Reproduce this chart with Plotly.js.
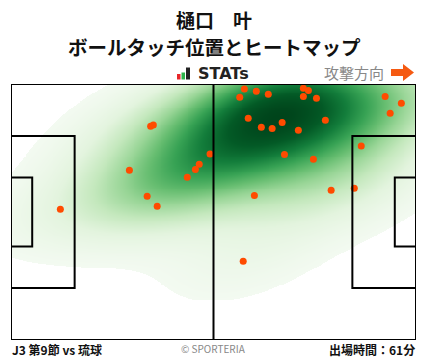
<!DOCTYPE html>
<html>
<head>
<meta charset="utf-8">
<script src="https://cdn.plot.ly/plotly-3.0.1.min.js"></script>
<style>
html,body{margin:0;padding:0;background:#fff;}
#chart{width:428px;height:359px;}
</style>
</head>
<body>
<div id="chart"></div>
<script>
// ---- data (pitch metres, x: 0-105 attacking right, y: 0-68 bottom to top) ----
const touchX = [36.2, 36.9, 30.7, 51.6, 48.8, 47.8, 45.7, 35.3, 37.9, 12.8,
                60.5, 63.6, 59.3, 66.7, 75.8, 77.1, 75.8, 79.2, 97.0, 101.2,
                98.3, 61.5, 64.9, 67.7, 70.3, 74.5, 81.5, 90.8, 70.9, 78.4,
                63.1, 83.0, 89.0, 60.2];
const touchY = [56.8, 57.1, 45.1, 49.4, 46.7, 45.3, 43.2, 38.2, 35.5, 34.7,
                66.7, 66.1, 64.5, 65.3, 66.9, 66.3, 64.7, 64.2, 64.7, 62.9,
                60.2, 58.9, 56.5, 56.2, 57.8, 55.7, 58.4, 51.5, 49.3, 48.0,
                38.4, 39.8, 40.3, 20.9];
const playerName = "樋口　叶";
const chartTitle = "ボールタッチ位置とヒートマップ";
const matchLabel = "J3 第9節 vs 琉球";
const minutesLabel = "出場時間：61分";
const pitchLength = 105, pitchWidth = 68;

// ---- Gaussian kernel density estimate of the touches (full covariance) ----
function kdeGrid(xs, ys, step, factor){
  const n = xs.length;
  const mx = xs.reduce((s,v)=>s+v,0)/n, my = ys.reduce((s,v)=>s+v,0)/n;
  let sxx=0, syy=0, sxy=0;
  for(let i=0;i<n;i++){ const a=xs[i]-mx, b=ys[i]-my; sxx+=a*a; syy+=b*b; sxy+=a*b; }
  const f2 = factor*factor;
  const cxx = sxx/(n-1)*f2, cyy = syy/(n-1)*f2, cxy = sxy/(n-1)*f2;
  const det = cxx*cyy - cxy*cxy;
  const ixx = cyy/det, iyy = cxx/det, ixy = -cxy/det;
  const gx = [], gy = [], z = [];
  for(let x=0; x<=pitchLength+1e-9; x+=step) gx.push(x);
  for(let y=0; y<=pitchWidth+1e-9; y+=step) gy.push(y);
  let zmax = 0;
  for(const y of gy){
    const row = [];
    for(const x of gx){
      let s = 0;
      for(let i=0;i<n;i++){
        const dx=x-xs[i], dy=y-ys[i];
        s += Math.exp(-0.5*(ixx*dx*dx + 2*ixy*dx*dy + iyy*dy*dy));
      }
      row.push(s); if(s>zmax) zmax=s;
    }
    z.push(row);
  }
  return {gx, gy, z: z.map(r=>r.map(v=>v/zmax))};
}
const dens = kdeGrid(touchX, touchY, 0.5, 0.78);

// ---- geometry helpers for pixel-placed decorations ----
const L=11, R=416, T=84, B=340;
const px = v => (v-L)/(R-L);
const py = v => (B-v)/(B-T);

const heat = {
  type:'heatmap', x:dens.gx, y:dens.gy, z:dens.z, zmin:0, zmax:1,
  zsmooth:'best', showscale:false, hoverinfo:'skip',
  colorscale:[[0,'rgba(255,255,255,0)'],[0.04,'rgba(255,255,255,0)'],[0.0401,'#f3faf1'],
              [0.18,'#e3f4de'],[0.3,'#c4e8bd'],[0.42,'#98d596'],[0.53,'#66bd70'],
              [0.64,'#37a254'],[0.76,'#137d3b'],[0.88,'#035a26'],[1,'#00441b']]
};
const dots = {
  type:'scatter', mode:'markers', x:touchX, y:touchY, hoverinfo:'skip',
  marker:{color:'#ff4b00', size:7, line:{width:0}}
};

const lw = 2, lc = '#000';
const pitchShapes = [
  {type:'rect', x0:0, x1:pitchLength, y0:0, y1:pitchWidth},
  {type:'line', x0:pitchLength/2, x1:pitchLength/2, y0:0, y1:pitchWidth},
  {type:'rect', x0:0, x1:16.5, y0:pitchWidth/2-20.16, y1:pitchWidth/2+20.16},
  {type:'rect', x0:0, x1:5.5, y0:pitchWidth/2-9.16, y1:pitchWidth/2+9.16},
  {type:'rect', x0:pitchLength-16.5, x1:pitchLength, y0:pitchWidth/2-20.16, y1:pitchWidth/2+20.16},
  {type:'rect', x0:pitchLength-5.5, x1:pitchLength, y0:pitchWidth/2-9.16, y1:pitchWidth/2+9.16}
].map(s=>Object.assign({xref:'x', yref:'y', line:{color:lc, width:lw}, layer:'above'}, s));

const decoShapes = [
  // STATs logo bars
  {type:'rect', x0:px(177), x1:px(180.5), y0:py(79.5), y1:py(74), fillcolor:'#e8262a'},
  {type:'rect', x0:px(181.5), x1:px(185), y0:py(79.5), y1:py(72.5), fillcolor:'#2db34a'},
  {type:'rect', x0:px(186), x1:px(190), y0:py(79.5), y1:py(67.5), fillcolor:'#222'},
  // attack direction arrow
  {type:'path', path:`M ${px(391)} ${py(69)} L ${px(403)} ${py(69)} L ${px(403)} ${py(64)} L ${px(414)} ${py(72.5)} L ${px(403)} ${py(81)} L ${px(403)} ${py(76)} L ${px(391)} ${py(76)} Z`, fillcolor:'#f55a12'}
].map(s=>Object.assign({xref:'paper', yref:'paper', line:{width:0}}, s));

const F = '"Noto Sans CJK JP", "Noto Sans", sans-serif';
const ann = (text, x, y, size, color, xanchor, bold, fam) => ({
  text: bold ? '<b>'+text+'</b>' : text, x:px(x), y:py(y), xref:'paper', yref:'paper',
  xanchor, yanchor:'middle', showarrow:false, font:{family:fam||F, size, color}
});

const layout = {
  width:428, height:359, paper_bgcolor:'#fff', plot_bgcolor:'#fff',
  margin:{l:L, r:428-R, t:T, b:359-B, pad:0},
  showlegend:false,
  xaxis:{range:[0,pitchLength], visible:false, fixedrange:true},
  yaxis:{range:[0,pitchWidth], visible:false, fixedrange:true},
  shapes: pitchShapes.concat(decoShapes),
  annotations:[
    ann(playerName, 214, 19.5, 19, '#111', 'center', true),
    ann(chartTitle, 214, 46.5, 19.5, '#111', 'center', true),
    ann('<b>STATs</b>', 196, 73.5, 16, '#222', 'left', false, '"DejaVu Sans", sans-serif'),
    ann('攻撃方向', 385.5, 72, 15, '#888', 'right', false),
    ann(matchLabel, 10, 349, 12, '#111', 'left', true),
    ann('© SPORTERIA', 213, 348, 10, '#888', 'center', false),
    ann(minutesLabel, 417, 349, 12, '#111', 'right', true)
  ]
};
Plotly.newPlot('chart', [heat, dots], layout, {staticPlot:true});
</script>
</body>
</html>
